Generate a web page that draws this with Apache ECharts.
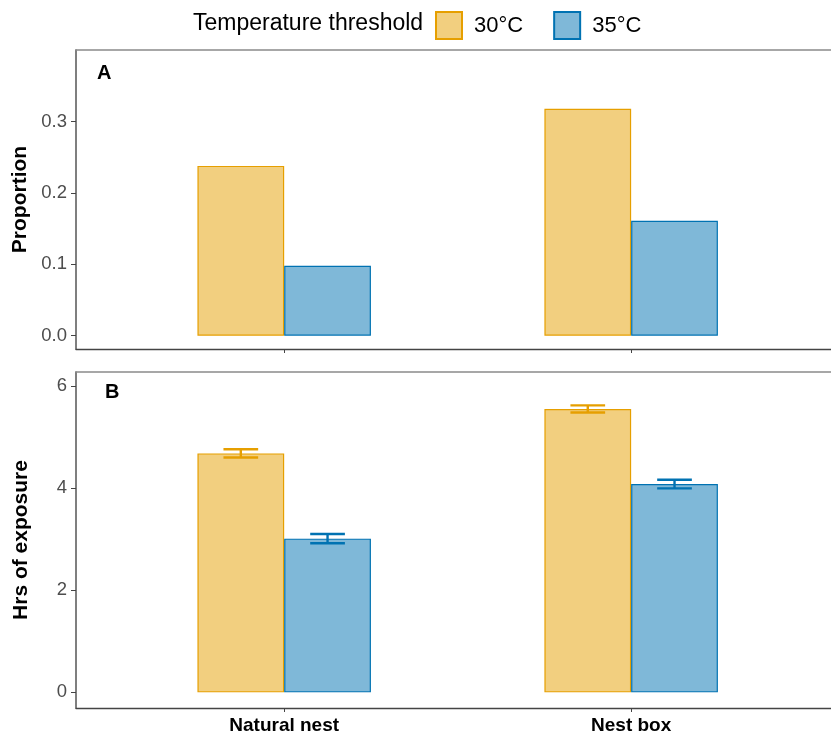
<!DOCTYPE html>
<html>
<head>
<meta charset="utf-8">
<script src="https://cdn.jsdelivr.net/npm/echarts@6/dist/echarts.min.js"></script>
<style>html,body{margin:0;padding:0;background:#fff}#c{width:831px;height:738px}</style>
</head>
<body>
<div id="c"></div>
<script>
// ---- data ----
const categories = ['Natural nest', 'Nest box'];
const catPos = [1, 2];
const seriesNames = ['30°C', '35°C'];
const proportion30 = [0.238, 0.318];
const proportion35 = [0.098, 0.161];
const hours30 = [4.68, 5.55];
const hours35 = [3.01, 4.08];
const hoursErr30 = [0.08, 0.07];
const hoursErr35 = [0.09, 0.085];
const propTicks = [0, 0.1, 0.2, 0.3];
const hourTicks = [0, 2, 4, 6];

// ---- styles ----
const FONT = '"Liberation Sans", Arial, sans-serif';
const fill30 = '#F2CF7F', line30 = '#E69F00';
const fill35 = '#7FB8D8', line35 = '#0072B2';
const X_MIN = 0.4, X_MAX = 2.576;

const chart = echarts.init(document.getElementById('c'), null, {renderer: 'canvas'});

function pairs(vals) { return vals.map((v, i) => [catPos[i], v]); }
function triples(vals, errs) { return vals.map((v, i) => [catPos[i], v, errs[i]]); }

function xAxisCfg(gridIndex, showLabels) {
  return {
    type: 'value', gridIndex, min: X_MIN, max: X_MAX, position: 'bottom',
    splitLine: {show: false},
    axisLine: {show: true, onZero: false, lineStyle: {color: '#444', width: 1.3}},
    axisTick: {show: true, length: 4, lineStyle: {color: '#444'}, customValues: catPos},
    axisLabel: {
      show: showLabels, customValues: catPos, margin: 8,
      fontFamily: FONT, fontSize: 19, fontWeight: 'bold', color: '#000',
      formatter: v => categories[catPos.indexOf(Math.round(v))] || ''
    }
  };
}
function xTopCfg(gridIndex) {
  return {
    type: 'value', gridIndex, min: X_MIN, max: X_MAX, position: 'top',
    splitLine: {show: false}, axisTick: {show: false}, axisLabel: {show: false},
    axisLine: {show: true, onZero: false, lineStyle: {color: '#8a8a8a', width: 1.6}}
  };
}
function yAxisCfg(gridIndex, min, max, ticks, name, fmt) {
  return {
    type: 'value', gridIndex, min, max,
    name, nameLocation: 'middle', nameGap: 44,
    nameTextStyle: {fontFamily: FONT, fontSize: 21, fontWeight: 'bold', color: '#000'},
    splitLine: {show: false},
    axisLine: {show: true, onZero: false, lineStyle: {color: '#555', width: 1.5}},
    axisTick: {show: true, length: 5, lineStyle: {color: '#444'}, customValues: ticks},
    axisLabel: {customValues: ticks, margin: 9, fontFamily: FONT, fontSize: 18.5, color: '#4D4D4D', formatter: fmt}
  };
}

function barSeries(name, data, gi, fill, stroke) {
  return {
    type: 'bar', name, data, xAxisIndex: gi * 2, yAxisIndex: gi,
    barGap: '0%', barCategoryGap: '50%',
    itemStyle: {color: fill, borderColor: stroke, borderWidth: 1.2},
    emphasis: {disabled: true}, animation: false, z: 2
  };
}

function errSeries(name, data, offsetFrac, color) {
  return {
    type: 'custom', name: name + ' err', xAxisIndex: 2, yAxisIndex: 1, data, animation: false, z: 5,
    renderItem: function (params, api) {
      const x = api.value(0), v = api.value(1), e = api.value(2);
      const unit = api.size([1, 0])[0];
      const cx = api.coord([x, v])[0] + offsetFrac * unit;
      const top = api.coord([x, v + e])[1];
      const bot = api.coord([x, v - e])[1];
      const hw = 0.05 * unit;
      const st = {stroke: color, lineWidth: 2.4};
      return {type: 'group', children: [
        {type: 'line', shape: {x1: cx, y1: top, x2: cx, y2: bot}, style: st},
        {type: 'line', shape: {x1: cx - hw, y1: top, x2: cx + hw, y2: top}, style: st},
        {type: 'line', shape: {x1: cx - hw, y1: bot, x2: cx + hw, y2: bot}, style: st}
      ]};
    }
  };
}

const option = {
  backgroundColor: '#fff',
  animation: false,
  title: [
    {text: 'Temperature threshold', left: 188, top: 7, textStyle: {fontFamily: FONT, fontSize: 23, fontWeight: 'normal', color: '#000'}},
    {text: 'A', left: 92, top: 58, textStyle: {fontFamily: FONT, fontSize: 20, fontWeight: 'bold', color: '#000'}},
    {text: 'B', left: 100, top: 377, textStyle: {fontFamily: FONT, fontSize: 20, fontWeight: 'bold', color: '#000'}}
  ],
  legend: {
    data: seriesNames, left: 430, top: 6, icon: 'rect',
    itemWidth: 26, itemHeight: 27, itemGap: 30,
    textStyle: {fontFamily: FONT, fontSize: 22, color: '#000', padding: [0, 0, 0, 7]},
    selectedMode: false
  },
  grid: [
    {left: 76, top: 50, right: 0, height: 299, show: false},
    {left: 76, top: 372, right: 0, height: 336, show: false}
  ],
  xAxis: [xAxisCfg(0, false), xTopCfg(0), xAxisCfg(1, true), xTopCfg(1)],
  yAxis: [
    yAxisCfg(0, -0.0187, 0.4005, propTicks, 'Proportion', v => v.toFixed(1)),
    yAxisCfg(1, -0.307, 6.274, hourTicks, 'Hrs of exposure', v => String(Math.round(v)))
  ],
  series: [
    barSeries(seriesNames[0], pairs(proportion30), 0, fill30, line30),
    barSeries(seriesNames[1], pairs(proportion35), 0, fill35, line35),
    barSeries(seriesNames[0], pairs(hours30), 1, fill30, line30),
    barSeries(seriesNames[1], pairs(hours35), 1, fill35, line35),
    errSeries(seriesNames[0], triples(hours30, hoursErr30), -0.125, line30),
    errSeries(seriesNames[1], triples(hours35, hoursErr35), 0.125, line35)
  ]
};
chart.setOption(option);
</script>
</body>
</html>
